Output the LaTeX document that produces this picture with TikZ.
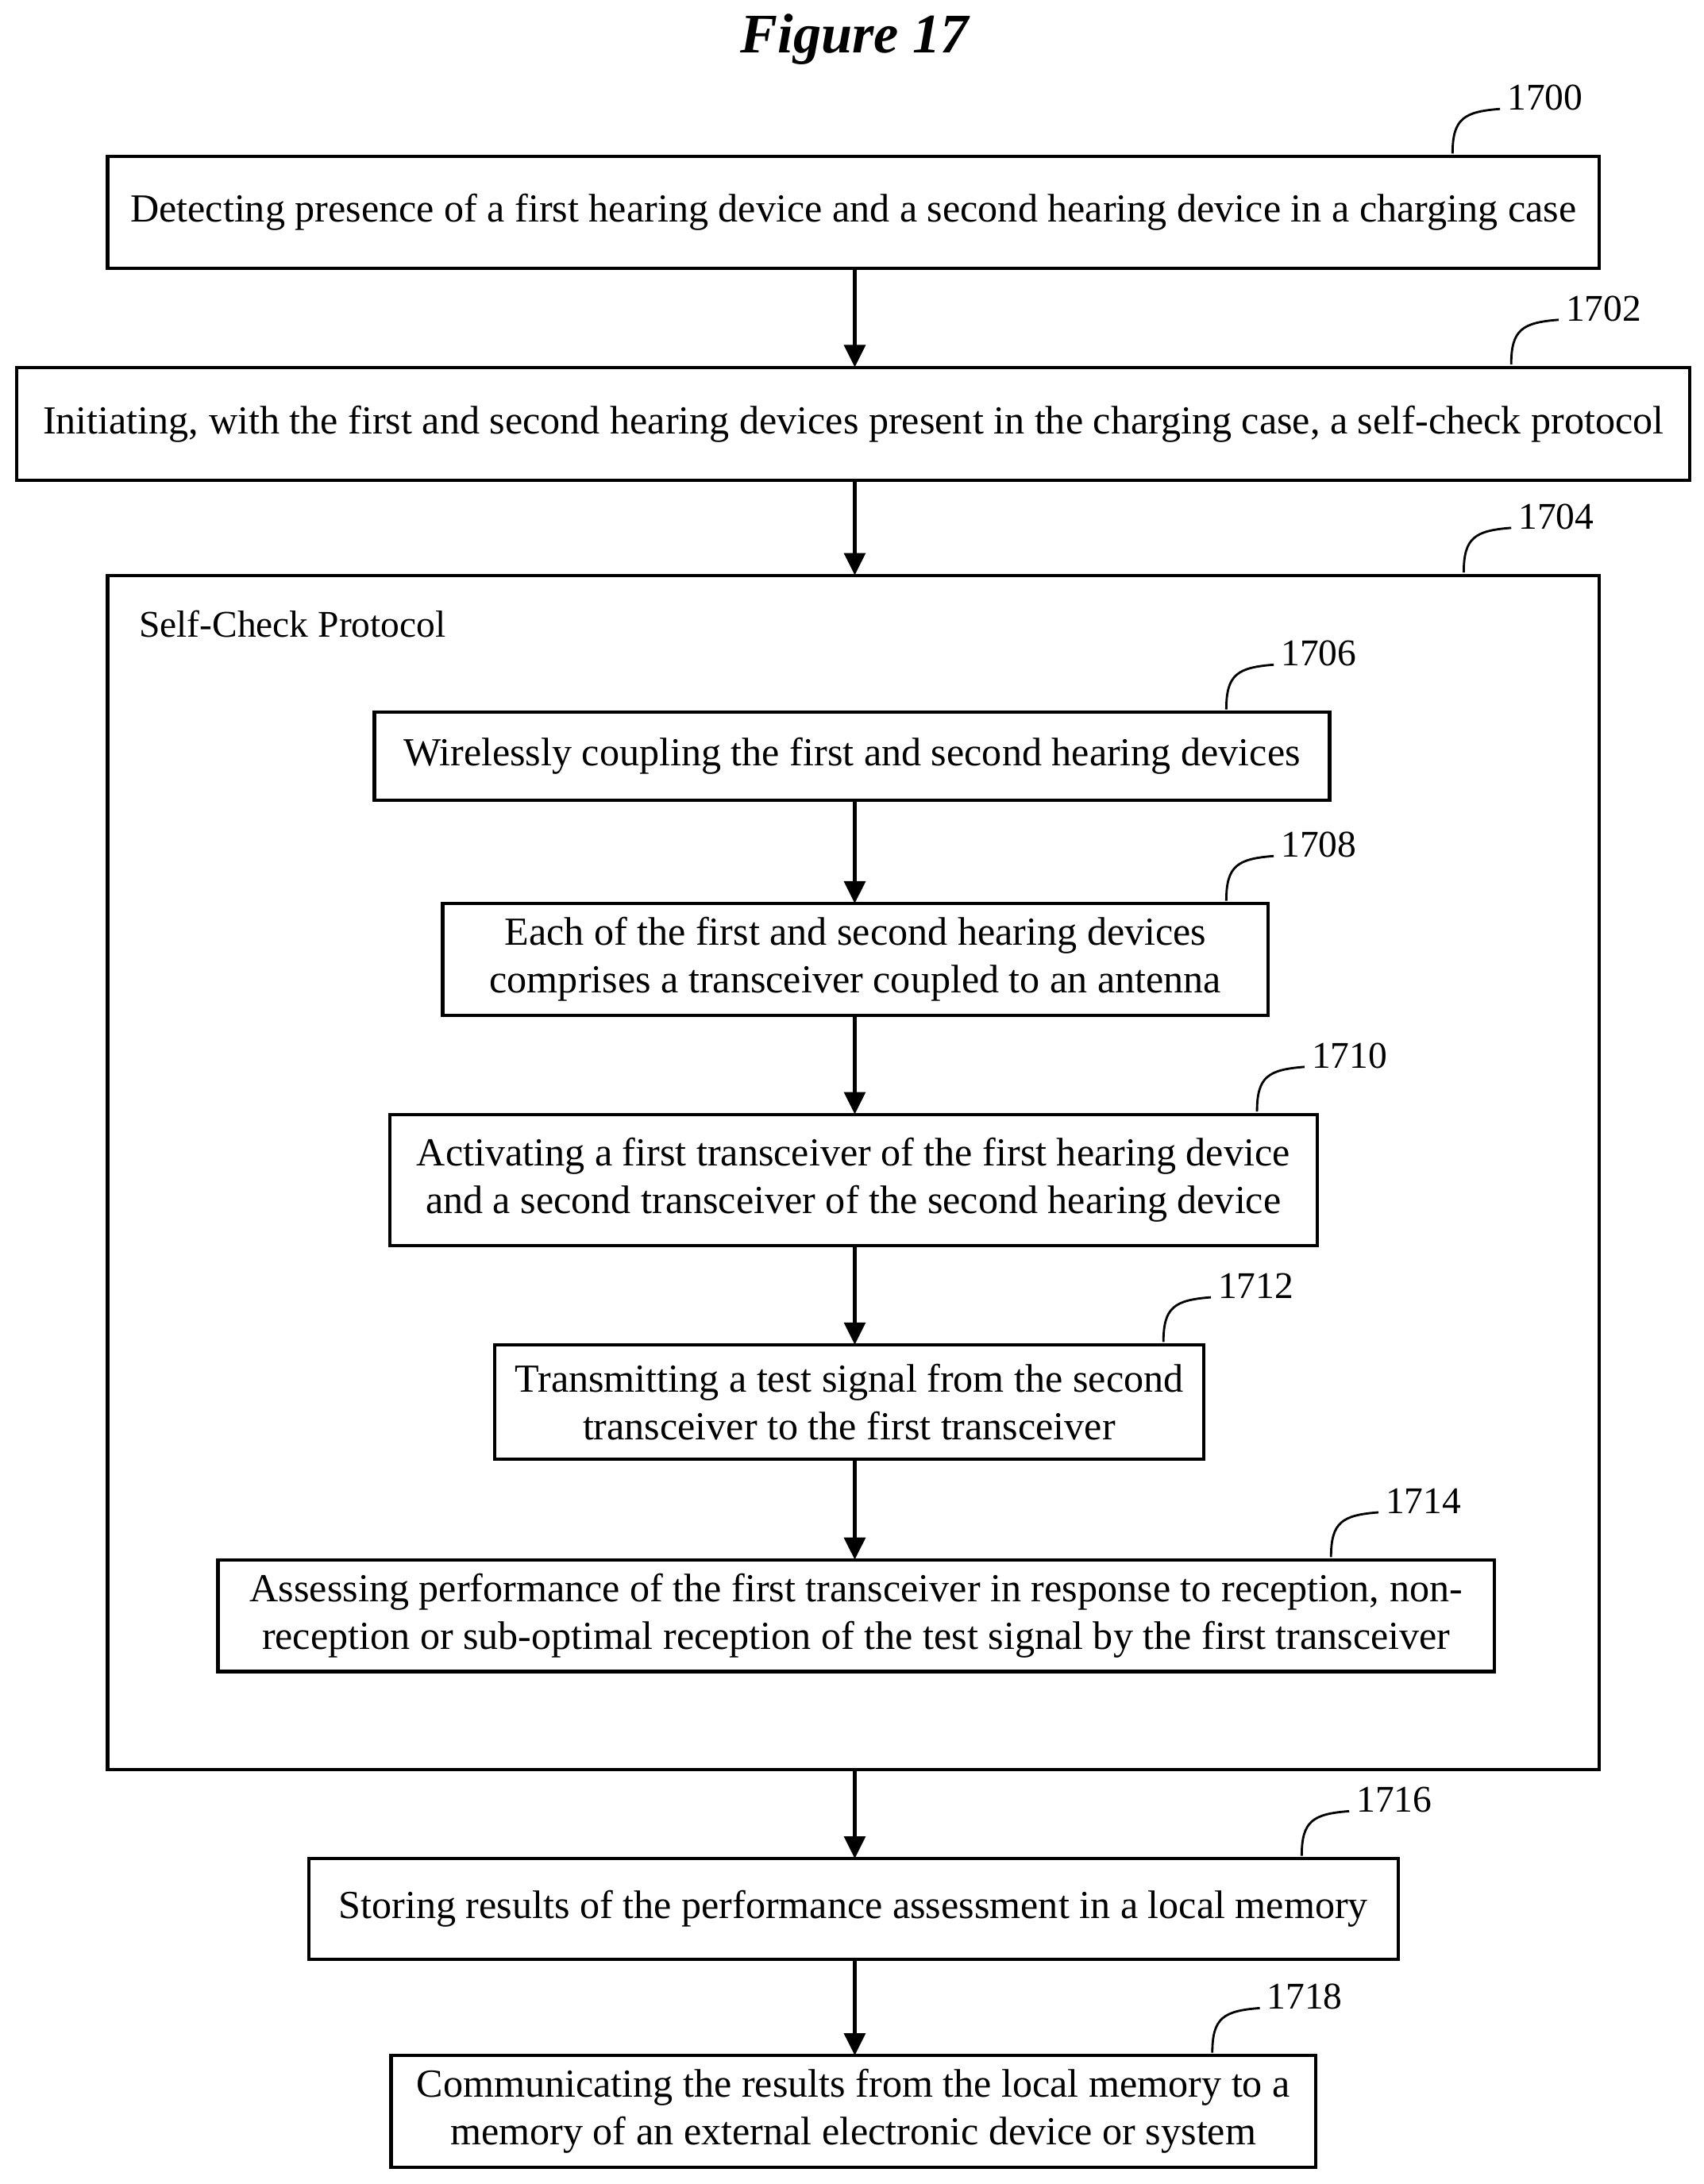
\documentclass[tikz,border=0pt]{standalone}
\usepackage{fontspec}
\setmainfont{Liberation Serif}
\usetikzlibrary{arrows.meta}
\begin{document}
\begin{tikzpicture}[x=1pt,y=-1pt,
  box/.style={draw,line width=2.4pt,align=center,font=\fontsize{28.5}{34}\selectfont},
  arr/.style={line width=3pt,-{Triangle[length=16pt,width=15pt]}},
  lead/.style={line width=1.6pt},
  num/.style={font=\fontsize{27}{30}\selectfont,anchor=west}]
\useasboundingbox (0,0) rectangle (1220,1564);
\node[font=\fontsize{40}{46}\selectfont\bfseries\itshape] (title) at (612,28) {Figure 17};
\newcommand{\bx}[6]{\draw[box] (#1,#2) rectangle (#3,#4); \node[box,draw=none] (#5) at ({(#1+#3)/2},{(#2+#4)/2}) {#6};
 \coordinate (#5t) at (612,#2); \coordinate (#5b) at (612,#4);}
\bx{77}{112}{1145}{192}{n1700}{Detecting presence of a first hearing device and a second hearing device in a charging case}
\bx{12}{263}{1210}{344}{n1702}{Initiating, with the first and second hearing devices present in the charging case, a self-check protocol}
\draw[box] (77,412) rectangle (1145,1267);
\coordinate (n1704t) at (612,412); \coordinate (n1704b) at (612,1267);
\node[num] (scp) at (96,447) {Self-Check Protocol};
\bx{268}{510}{952}{573}{n1706}{Wirelessly coupling the first and second hearing devices}
\bx{317}{647}{908}{727}{n1708}{Each of the first and second hearing devices\\comprises a transceiver coupled to an antenna}
\bx{279}{798}{943}{892}{n1710}{Activating a first transceiver of the first hearing device\\and a second transceiver of the second hearing device}
\bx{354}{963}{862}{1045}{n1712}{Transmitting a test signal from the second\\transceiver to the first transceiver}
\bx{156}{1117}{1070}{1197}{n1714}{Assessing performance of the first transceiver in response to reception, non-\\reception or sub-optimal reception of the test signal by the first transceiver}
\bx{221}{1331}{1001}{1403}{n1716}{Storing results of the performance assessment in a local memory}
\bx{280}{1472}{942}{1552}{n1718}{Communicating the results from the local memory to a\\memory of an external electronic device or system}
\foreach \a/\b in {n1700b/n1702t,n1702b/n1704t,n1706b/n1708t,n1708b/n1710t,n1710b/n1712t,n1712b/n1714t,n1704b/n1716t,n1716b/n1718t}
  \draw[arr] (\a) -- (\b);
\foreach \x/\y/\t in {1040/110/1700,1082/261/1702,1048/410/1704,878/508/1706,878/645/1708,900/796/1710,833/961/1712,953/1115/1714,932/1329/1716,868/1470/1718}{
  \coordinate (s\t) at (\x,\y);
  \node[num,inner sep=1pt] (l\t) at (\x+38,\y-40) {\t};
  \draw[lead] (s\t) .. controls (\x,\y-25) and (\x+8,\y-30) .. (\x+34,\y-32);}
\end{tikzpicture}
\end{document}
